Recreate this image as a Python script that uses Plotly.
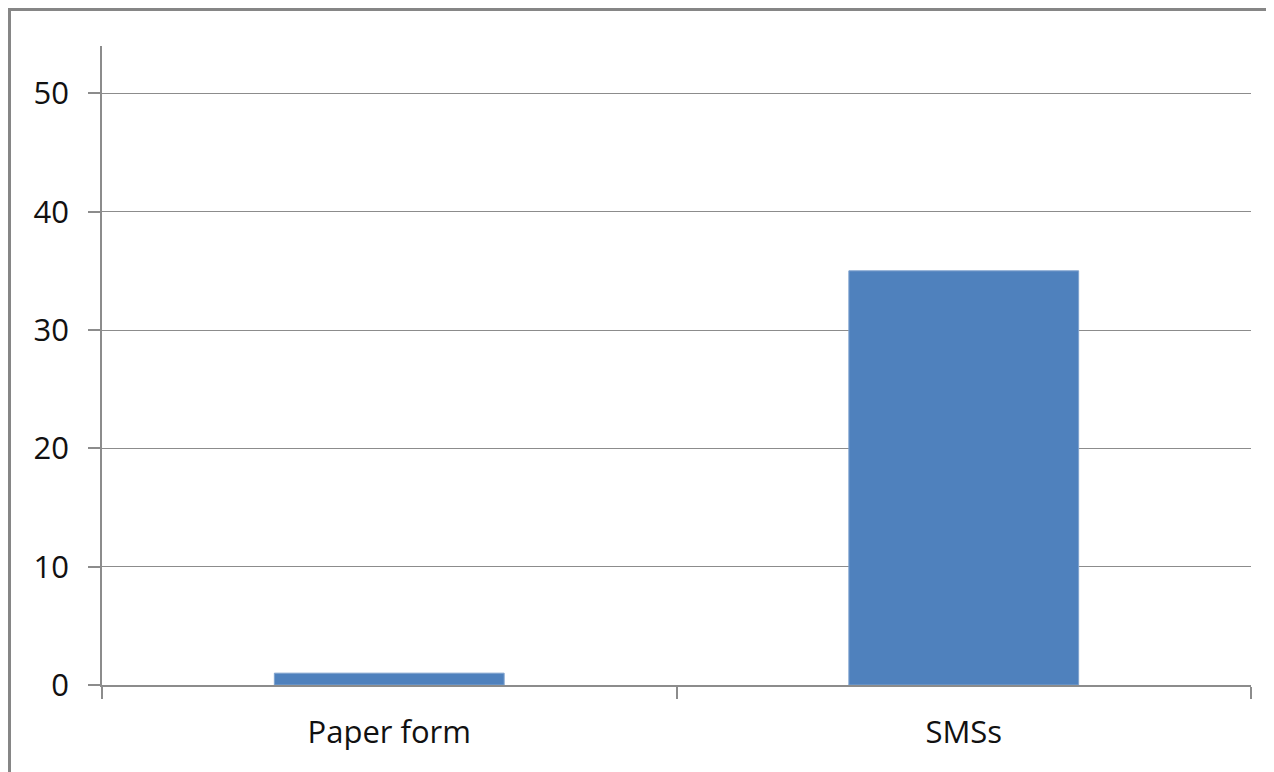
import plotly.graph_objects as go

categories = ["Paper form", "SMSs"]
values = [1, 35]
y_ticks = [0, 10, 20, 30, 40, 50]

bar_color = "#4F81BD"
grid_color = "#8C8C8C"

fig = go.Figure(
    go.Bar(
        x=categories,
        y=values,
        marker=dict(color=bar_color, line=dict(color="#7FA2CE", width=1)),
        hoverinfo="x+y",
    )
)

# the page body adds an 8px offset; margins compensate for it
fig.update_layout(
    width=1274,
    height=772,
    margin=dict(l=94, r=31, t=38, b=95),
    paper_bgcolor="white",
    plot_bgcolor="white",
    bargap=0.6,
    showlegend=False,
    font=dict(family="Open Sans, Noto Sans, sans-serif", size=31, color="#111111"),
    shapes=[
        dict(
            type="rect", xref="paper", yref="paper",
            x0=-0.0805, x1=1.3, y0=-0.5, y1=1.0571,
            line=dict(color="#868686", width=3), fillcolor="rgba(0,0,0,0)",
            layer="below",
        )
    ],
)

fig.update_xaxes(
    type="category",
    showline=True, linecolor=grid_color, linewidth=1.5,
    ticks="outside", tickson="boundaries", ticklen=12, tickcolor=grid_color, tickwidth=1.5,
    showgrid=False,
    ticklabelstandoff=19,
)

fig.update_yaxes(
    range=[0, 54],
    tickmode="array", tickvals=y_ticks,
    showline=True, linecolor=grid_color, linewidth=1.5,
    ticks="outside", ticklen=12, tickcolor=grid_color, tickwidth=1.5,
    showgrid=True, gridcolor=grid_color, gridwidth=1.2,
    zeroline=False,
    ticklabelstandoff=13,
)

fig.write_html("out.html")
